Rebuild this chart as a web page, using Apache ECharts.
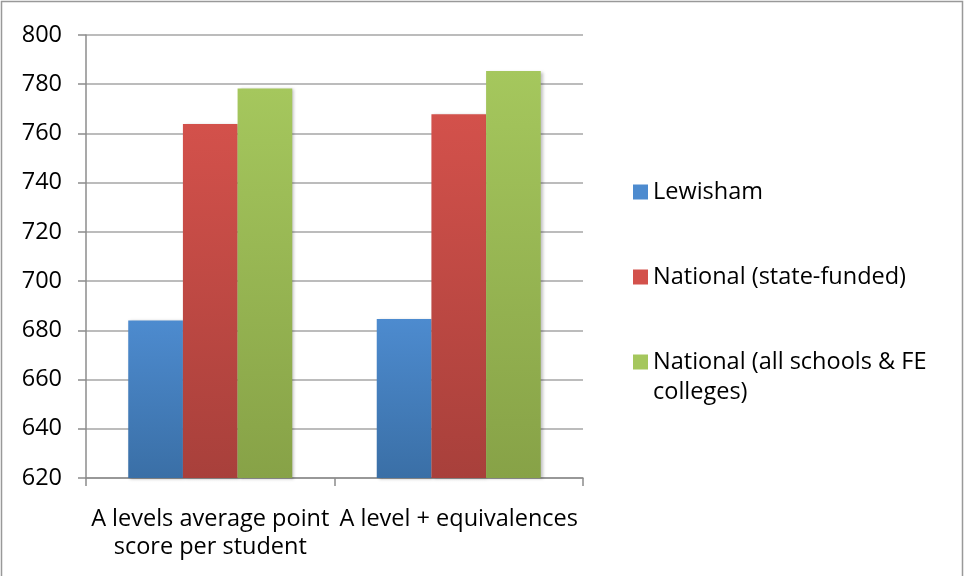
<!DOCTYPE html>
<html>
<head>
<meta charset="utf-8">
<script src="https://cdn.jsdelivr.net/npm/echarts@6/dist/echarts.min.js"></script>
<style>
html,body{margin:0;padding:0;background:#fff;}
#chart{width:965px;height:576px;}
</style>
</head>
<body>
<div id="chart"></div>
<script>
const categories = ['A levels average point\nscore per student', 'A level + equivalences'];
const seriesNames = ['Lewisham', 'National (state-funded)', 'National (all schools & FE colleges)'];
const lewisham = [684, 684.6];
const nationalState = [763.8, 767.8];
const nationalAll = [778.3, 785.4];
const yTicks = { min: 620, max: 800, interval: 20 };

const colors = [
  ['#4d8bcf', '#3a6fa6'],
  ['#d3514b', '#a8403b'],
  ['#a5c75d', '#87a247']
];
const FONT = 'Open Sans';

function grad(c) {
  return new echarts.graphic.LinearGradient(0, 0, 0, 1, [
    { offset: 0, color: c[0] }, { offset: 1, color: c[1] }
  ]);
}
function mkSeries(name, data, i) {
  return {
    name: name, type: 'bar', data: data,
    barGap: '0%', barCategoryGap: '34%',
    itemStyle: {
      color: grad(colors[i]),
      shadowColor: 'rgba(0,0,0,0.25)', shadowBlur: 3, shadowOffsetX: 2, shadowOffsetY: 1
    },
    emphasis: { disabled: true }
  };
}
const legendText = { fontFamily: FONT, fontSize: 23.5, color: '#000', lineHeight: 30 };
function mkLegend(name, top) {
  return {
    orient: 'vertical', left: 628, top: top,
    itemWidth: 15, itemHeight: 15, itemGap: 0,
    icon: 'rect',
    selectedMode: false,
    data: [{ name: name, itemStyle: { color: colors[seriesNames.indexOf(name)][0] } }],
    textStyle: legendText,
    formatter: function (n) { return n === seriesNames[2] ? ' \nNational (all schools & FE\ncolleges)' : n; }
  };
}

const chart = echarts.init(document.getElementById('chart'));
chart.setOption({
  animation: false,
  backgroundColor: '#fff',
  graphic: [{
    type: 'rect', silent: true,
    shape: { x: 1.5, y: 1.5, width: 961, height: 600 },
    style: { fill: 'none', stroke: '#999', lineWidth: 1.5 }
  }],
  grid: { left: 86, right: 382, top: 35, bottom: 98, containLabel: false },
  legend: [
    mkLegend(seriesNames[0], 172),
    mkLegend(seriesNames[1], 257),
    mkLegend(seriesNames[2], 312)
  ],
  xAxis: {
    type: 'category', data: categories,
    axisLine: { lineStyle: { color: '#8c8c8c', width: 1.5 } },
    axisTick: { show: true, length: 8, lineStyle: { color: '#8c8c8c', width: 1.5 } },
    axisLabel: { fontFamily: FONT, fontSize: 23.5, color: '#000', margin: 27, lineHeight: 28, interval: 0, hideOverlap: false }
  },
  yAxis: {
    type: 'value', min: yTicks.min, max: yTicks.max, interval: yTicks.interval,
    axisLine: { show: true, lineStyle: { color: '#8c8c8c', width: 1.5 } },
    axisTick: { show: true, length: 8, lineStyle: { color: '#8c8c8c', width: 1.5 } },
    splitLine: { lineStyle: { color: '#a6a6a6', width: 1.5 } },
    axisLabel: { fontFamily: FONT, fontSize: 23.5, color: '#000', margin: 24 }
  },
  series: [
    mkSeries(seriesNames[0], lewisham, 0),
    mkSeries(seriesNames[1], nationalState, 1),
    mkSeries(seriesNames[2], nationalAll, 2)
  ]
});
</script>
</body>
</html>
